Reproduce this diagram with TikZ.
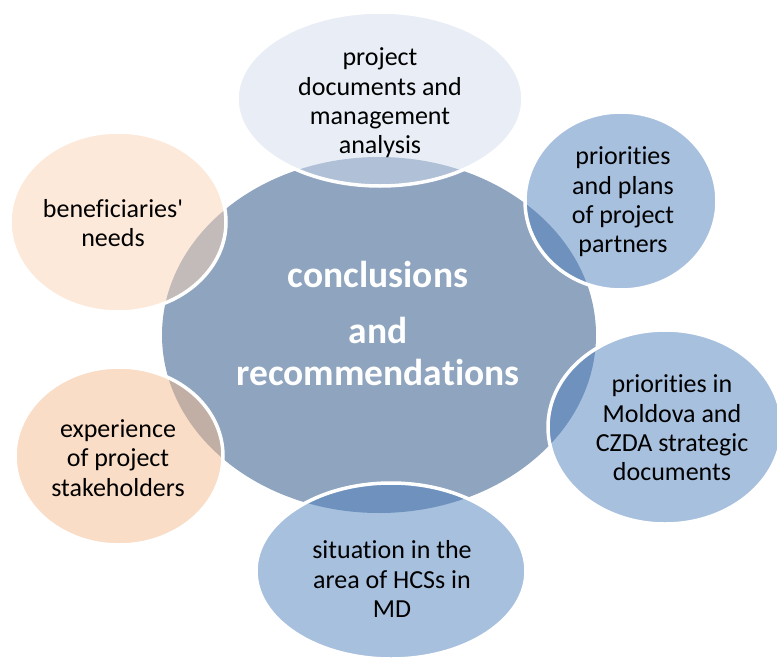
\documentclass[tikz,border=0pt]{standalone}
\usepackage{fontspec}
% plain family: no TeX input mapping, so ' stays a straight apostrophe
\newfontfamily\carlito{Carlito}[Ligatures={NoCommon,NoContextual}]
\begin{document}
\definecolor{hubfill}{HTML}{8EA4BF}
\definecolor{paleblue}{HTML}{D3DDED}
\definecolor{midblue}{HTML}{4F81BD}
\definecolor{palepeach}{HTML}{F9D3B5}
\definecolor{peach}{HTML}{F5BB8D}
\begin{tikzpicture}[x=1pt,y=-1pt,
  hub/.style={fill=hubfill,draw=none},
  petal/.style={fill=#1,fill opacity=0.5,draw=white,line width=3.5pt},
  petaltext/.style={align=center,text=black,inner sep=0pt,
    font=\carlito\fontsize{26}{29.3}\selectfont},
  hubtext/.style={text=white,anchor=base,inner sep=0pt,
    font=\carlito\fontsize{37.5}{40}\selectfont\bfseries}]
  \useasboundingbox (0,0) rectangle (777,659);
  \clip (0,0) rectangle (777,659);

  % central hub
  \fill[hub] (379,335) ellipse [x radius=217, y radius=178];

  % surrounding factors
  \path[petal=paleblue]  (380,99)  ellipse [x radius=143, y radius=87];
  \path[petal=midblue]   (621,201) ellipse [x radius=96,  y radius=89];
  \path[petal=midblue]   (665,427) ellipse [x radius=117, y radius=97];
  \path[petal=midblue]   (391,571) ellipse [x radius=135, y radius=88];
  \path[petal=palepeach] (118,222) ellipse [x radius=108, y radius=90];
  \path[petal=peach]     (119,456) ellipse [x radius=104, y radius=89];

  % labels
  \node[hubtext] (c1) at (378,287) {conclusions};
  \node[hubtext] (c2) at (378,343) {and};
  \node[hubtext] (c3) at (378,385) {recommendations};

  \node[petaltext] (top) at (380,103) {project\\documents and\\management\\analysis};
  \node[petaltext] (tr)  at (623,202) {priorities\\and plans\\of project\\partners};
  \node[petaltext] (rt)  at (672,428) {priorities in\\Moldova and\\CZDA strategic\\documents};
  \node[petaltext] (bot) at (392,579) {situation in the\\area of HCSs in\\MD};
  \node[petaltext] (tl)  at (113,223) {beneficiaries'\\needs};
  \node[petaltext] (bl)  at (118,458) {experience\\of project\\stakeholders};
\end{tikzpicture}
\end{document}
